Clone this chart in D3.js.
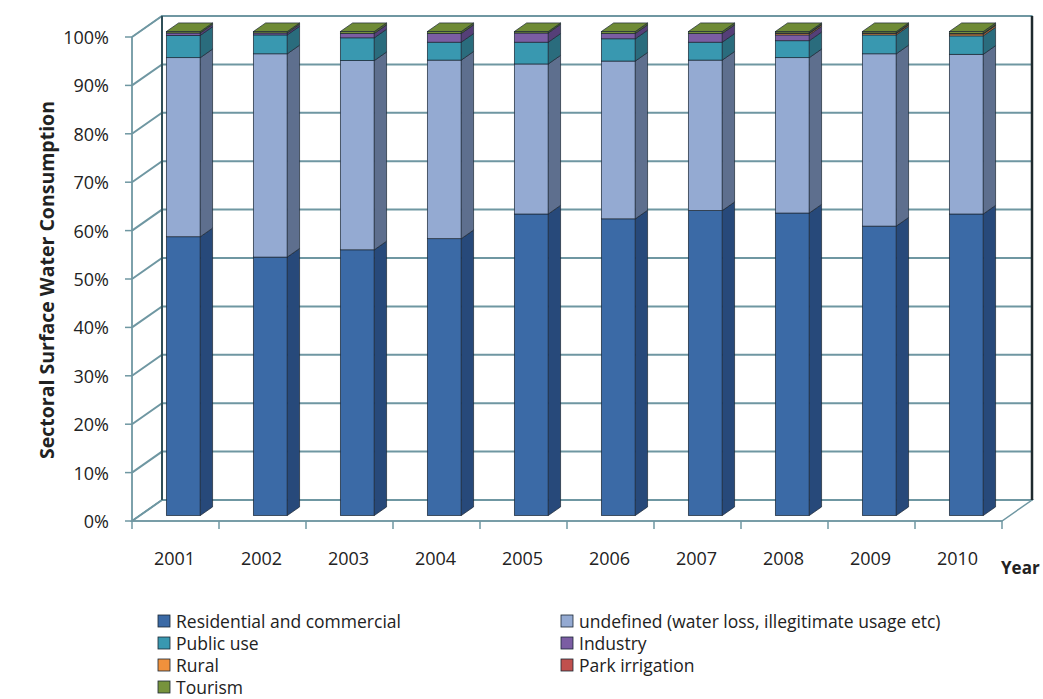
<!DOCTYPE html>
<html>
<head>
<meta charset="utf-8">
<script src="https://cdn.jsdelivr.net/npm/d3@7/dist/d3.min.js"></script>
<style>
  html, body { margin: 0; padding: 0; background: #ffffff; }
  svg { display: block; font-family: "Open Sans", Lato, sans-serif; }
</style>
</head>
<body>
<svg id="chart" width="1043" height="699"></svg>
<script>
// Sectoral surface water consumption, share of total (%) per year
const years = ["2001", "2002", "2003", "2004", "2005", "2006", "2007", "2008", "2009", "2010"];
const residential = [57.6, 53.4, 54.9, 57.2, 62.3, 61.3, 63.0, 62.5, 59.8, 62.3];
const undefinedUse = [37.0, 42.0, 39.1, 36.9, 31.0, 32.6, 31.1, 32.1, 35.6, 33.0];
const publicUse = [4.6, 3.9, 4.7, 3.7, 4.5, 4.6, 3.7, 3.5, 3.9, 3.8];
const industry = [0.5, 0.4, 0.9, 1.8, 1.9, 1.1, 1.8, 1.2, 0.0, 0.0];
const rural = [0.0, 0.0, 0.0, 0.0, 0.0, 0.0, 0.0, 0.3, 0.3, 0.4];
const parkIrrigation = [0.0, 0.0, 0.0, 0.0, 0.0, 0.0, 0.0, 0.1, 0.1, 0.1];
const tourism = [0.3, 0.3, 0.4, 0.4, 0.3, 0.4, 0.4, 0.3, 0.3, 0.4];
const yTicks = [0, 10, 20, 30, 40, 50, 60, 70, 80, 90, 100];

const seriesNames = [
  "Residential and commercial",
  "undefined (water loss, illegitimate  usage etc)",
  "Public use",
  "Industry",
  "Rural",
  "Park irrigation",
  "Tourism"
];
const seriesValues = [residential, undefinedUse, publicUse, industry, rural, parkIrrigation, tourism];

// front face / side face colours for each series
const fills = ["#3b6aa6", "#94aad2", "#3998b0", "#7b5da3", "#f0913c", "#c0504d", "#77933c"];
const sides = ["#27497a", "#5e6f8e", "#2a6c7d", "#553f78", "#b3682a", "#8a3634", "#55692a"];

const rows = years.map((yr, i) => {
  const r = { year: yr };
  seriesNames.forEach((n, k) => { r[n] = seriesValues[k][i]; });
  return r;
});
const stacked = d3.stack().keys(seriesNames)(rows);

const svg = d3.select("#chart");

// plot geometry: front plane of the floor and depth vector of the 3D box
const x0 = 132, x1 = 1002;
const depth = { dx: 30, dy: -21 };
const x = d3.scaleBand().domain(years).range([x0, x1]).padding(0);
const y = d3.scaleLinear().domain([0, 100]).range([521, 37]);

const gridCol = "#6f97a2";
const wallEdge = "#2f4f58";

const line = d3.line();

// back wall
svg.append("rect")
  .attr("x", x0 + depth.dx).attr("y", y(100) + depth.dy)
  .attr("width", x1 - x0).attr("height", y(0) - y(100))
  .attr("fill", "#ffffff").attr("stroke", gridCol).attr("stroke-width", 1.5);

// left side wall
svg.append("path")
  .attr("d", line([[x0, y(0)], [x0, y(100)], [x0 + depth.dx, y(100) + depth.dy], [x0 + depth.dx, y(0) + depth.dy]]) + "Z")
  .attr("fill", "#ffffff").attr("stroke", gridCol).attr("stroke-width", 1.2);

// floor
svg.append("path")
  .attr("d", line([[x0, y(0)], [x1, y(0)], [x1 + depth.dx, y(0) + depth.dy], [x0 + depth.dx, y(0) + depth.dy]]) + "Z")
  .attr("fill", "#ffffff").attr("stroke", gridCol).attr("stroke-width", 1.5);

// gridlines on the side wall and across the back wall
const grid = svg.append("g");
yTicks.forEach(t => {
  grid.append("path")
    .attr("d", line([[x0, y(t)], [x0 + depth.dx, y(t) + depth.dy], [x1 + depth.dx, y(t) + depth.dy]]))
    .attr("fill", "none").attr("stroke", gridCol).attr("stroke-width", 2);
});

// wall corner edges
svg.append("line")
  .attr("x1", x0 + depth.dx).attr("x2", x0 + depth.dx)
  .attr("y1", y(100) + depth.dy).attr("y2", y(0) + depth.dy)
  .attr("stroke", wallEdge).attr("stroke-width", 2);
svg.append("line")
  .attr("x1", x1 + depth.dx).attr("x2", x1 + depth.dx)
  .attr("y1", y(100) + depth.dy).attr("y2", y(0) + depth.dy)
  .attr("stroke", "#1e2a2e").attr("stroke-width", 2.5);

// value axis: ticks and labels on the front-left edge
svg.append("line")
  .attr("x1", x0).attr("x2", x0).attr("y1", y(0)).attr("y2", y(100))
  .attr("stroke", gridCol).attr("stroke-width", 1.5);
const yAxis = svg.append("g");
yTicks.forEach(t => {
  yAxis.append("line")
    .attr("x1", x0 - 7).attr("x2", x0).attr("y1", y(t)).attr("y2", y(t))
    .attr("stroke", gridCol).attr("stroke-width", 1.5);
  yAxis.append("text")
    .attr("x", 109).attr("y", y(t))
    .attr("text-anchor", "end").attr("dominant-baseline", "central")
    .attr("font-size", 18).attr("fill", "#222")
    .text(t + "%");
});

// category axis: front floor edge ticks and year labels
const xAxis = svg.append("g");
xAxis.append("line")
  .attr("x1", x0).attr("x2", x1).attr("y1", y(0)).attr("y2", y(0))
  .attr("stroke", gridCol).attr("stroke-width", 1.5);
[...years.map(d => x(d)), x1].forEach(px => {
  xAxis.append("line")
    .attr("x1", px).attr("x2", px).attr("y1", y(0)).attr("y2", y(0) + 8)
    .attr("stroke", gridCol).attr("stroke-width", 1.5);
});
years.forEach(yr => {
  xAxis.append("text")
    .attr("x", x(yr) + x.bandwidth() / 2 - 1).attr("y", 558)
    .attr("text-anchor", "middle").attr("dominant-baseline", "central")
    .attr("font-size", 18).attr("fill", "#222")
    .text(yr);
});
svg.append("text")
  .attr("x", 1001).attr("y", 567)
  .attr("dominant-baseline", "central")
  .attr("font-size", 17).attr("font-weight", "bold").attr("fill", "#222")
  .text("Year");

// 3D stacked bars
const f0 = 0.26, f1 = 0.67;
const barW = x.bandwidth() * 0.39;
const ddx = (f1 - f0) * depth.dx, ddy = (f1 - f0) * depth.dy;
const bars = svg.append("g");

years.forEach((yr, i) => {
  const g = bars.append("g");
  const xl = x(yr) + (x.bandwidth() - barW) / 2 + f0 * depth.dx;
  const xr = xl + barW;
  const off = f0 * depth.dy;
  stacked.forEach((s, k) => {
    const v0 = s[i][0], v1 = s[i][1];
    if (v1 - v0 <= 0) return;
    const yb = y(v0) + off, yt = y(v1) + off;
    g.append("rect")
      .attr("x", xl).attr("y", yt).attr("width", barW).attr("height", yb - yt)
      .attr("fill", fills[k]).attr("stroke", "#1b2633").attr("stroke-width", 0.7);
    g.append("path")
      .attr("d", line([[xr, yb], [xr, yt], [xr + ddx, yt + ddy], [xr + ddx, yb + ddy]]) + "Z")
      .attr("fill", sides[k]).attr("stroke", "#1b2633").attr("stroke-width", 0.7);
  });
  // top face in the colour of the uppermost series
  const yt = y(100) + off;
  g.append("path")
    .attr("d", line([[xl, yt], [xr, yt], [xr + ddx, yt + ddy], [xl + ddx, yt + ddy]]) + "Z")
    .attr("fill", "#6f8b36").attr("stroke", "#1b2633").attr("stroke-width", 0.7);
});

// value axis title
svg.append("text")
  .attr("transform", "translate(46,280) rotate(-90)")
  .attr("text-anchor", "middle").attr("dominant-baseline", "central")
  .attr("font-size", 19.5).attr("font-weight", "bold").attr("fill", "#222")
  .text("Sectoral Surface Water Consumption");

// legend: two columns, filled left column first
const legendPos = [
  [158, 621], [561, 621],
  [158, 643], [561, 643],
  [158, 665], [561, 665],
  [158, 687]
];
const legend = svg.append("g");
seriesNames.forEach((n, k) => {
  const [lx, ly] = legendPos[k];
  legend.append("rect")
    .attr("x", lx).attr("y", ly - 6).attr("width", 12).attr("height", 12)
    .attr("fill", fills[k]).attr("stroke", "#1b2633").attr("stroke-width", 0.8);
  legend.append("text")
    .attr("x", lx + 18).attr("y", ly)
    .attr("dominant-baseline", "central")
    .attr("font-size", 17.5).attr("fill", "#222")
    .text(n);
});
</script>
</body>
</html>
